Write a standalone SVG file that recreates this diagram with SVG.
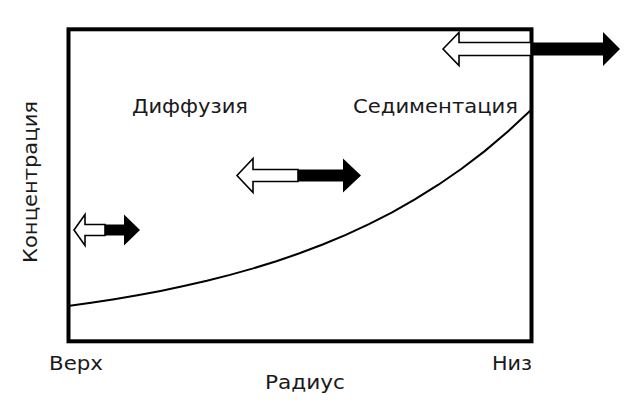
<svg xmlns="http://www.w3.org/2000/svg" width="640" height="419" viewBox="0 0 640 419">
<style>
.lbl{font-family:"DejaVu Sans","Noto Sans",sans-serif;font-size:19px;fill:#1a1a1a}
.wa{fill:#fff;stroke:#000;stroke-width:1.6;stroke-linejoin:miter}
.ba{fill:#000}
</style>
<rect width="640" height="419" fill="#fff"/>
<g id="plot">
<rect x="68.5" y="29.3" width="463" height="312" fill="none" stroke="#000" stroke-width="4"/>
</g>
<g id="curve">
<polyline fill="none" stroke="#000" stroke-width="2" points="68,306 91.15,302.8 114.3,299.2 137.45,295.3 160.6,290.9 183.75,286.1 206.9,280.8 230.05,274.9 253.2,268.4 276.35,261.2 299.5,253.3 322.65,244.5 345.8,234.8 368.95,224.1 392.1,212.3 415.25,199.2 438.4,184.7 461.55,168.8 484.7,151.1 507.85,131.6 531,110"/>
</g>
<g id="connectors">
<g id="arrow-small">
<polygon class="wa" points="74,230 85,214.5 85,224.5 105,224.5 105,235.5 85,235.5 85,245.5"/>
<polygon class="ba" points="105,224.5 124,224.5 124,214.5 140,230 124,245.5 124,235.5 105,235.5"/>
</g>
<g id="arrow-middle">
<polygon class="wa" points="237,175.5 253,158.5 253,169.5 298,169.5 298,181.5 253,181.5 253,192.5"/>
<polygon class="ba" points="298,169.5 343,169.5 343,158.5 361,175.5 343,192.5 343,181.5 298,181.5"/>
</g>
<g id="arrow-top">
<polygon class="wa" points="443,49 459,32.5 459,42.5 531,42.5 531,55.5 459,55.5 459,65.5"/>
<polygon class="ba" points="531,42.5 603,42.5 603,32 620,49 603,66 603,55.5 531,55.5"/>
</g>
</g>
<g id="labels">
<text class="lbl" x="132" y="113" textLength="116" lengthAdjust="spacingAndGlyphs">Диффузия</text>
<text class="lbl" x="353" y="113" textLength="165" lengthAdjust="spacingAndGlyphs">Седиментация</text>
<text class="lbl" x="49" y="370" textLength="54" lengthAdjust="spacingAndGlyphs">Верх</text>
<text class="lbl" x="492" y="370" textLength="40" lengthAdjust="spacingAndGlyphs">Низ</text>
<text class="lbl" x="265" y="389" textLength="80" lengthAdjust="spacingAndGlyphs">Радиус</text>
<text class="lbl" transform="translate(37,263) rotate(-90)" x="0" y="0" textLength="162" lengthAdjust="spacingAndGlyphs">Концентрация</text>
</g>
</svg>
